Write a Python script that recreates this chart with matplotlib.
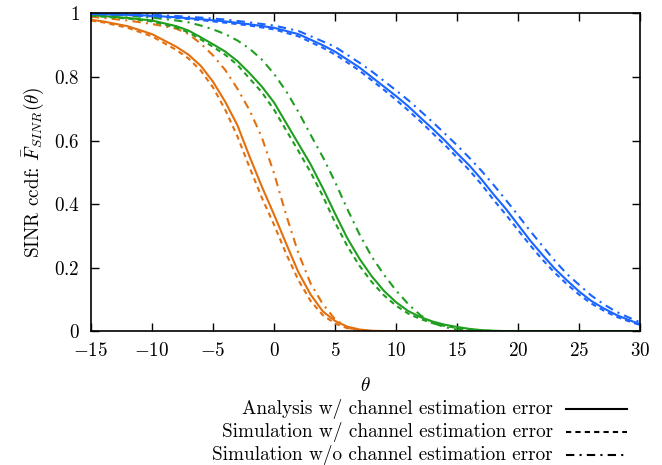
import matplotlib
matplotlib.use("Agg")
import matplotlib.pyplot as plt
from matplotlib.lines import Line2D
from matplotlib.ticker import FuncFormatter

plt.rcParams["font.family"] = "serif"
plt.rcParams["font.serif"] = ["cmr10", "DejaVu Serif"]
plt.rcParams["mathtext.fontset"] = "cm"
plt.rcParams["axes.formatter.use_mathtext"] = True
plt.rcParams["font.size"] = 13.8

# theta grid per colour group
x_orange = [-15, -14, -12, -10, -8, -7, -6, -5, -4, -3, -2, -1, 0, 1, 2, 3, 4, 5, 6, 7, 8, 9, 30]
orange_ana = [0.98, 0.975, 0.96, 0.935, 0.895, 0.87, 0.835, 0.785, 0.722, 0.648, 0.549, 0.455, 0.367,
              0.275, 0.185, 0.115, 0.062, 0.032, 0.014, 0.005, 0.001, 0.0, 0.0]
orange_sim = [0.978, 0.972, 0.955, 0.928, 0.885, 0.858, 0.82, 0.767, 0.697, 0.613, 0.515, 0.42, 0.335,
              0.243, 0.16, 0.095, 0.05, 0.024, 0.009, 0.003, 0.0, 0.0, 0.0]
orange_noerr = [0.99, 0.986, 0.978, 0.967, 0.952, 0.935, 0.905, 0.868, 0.822, 0.763, 0.695, 0.61, 0.497,
                0.365, 0.245, 0.15, 0.085, 0.037, 0.011, 0.002, 0.0, 0.0, 0.0]

x_green = [-15, -12, -10, -8, -7, -6, -5, -4, -3, -2, -1, 0, 1, 2, 3, 4, 5, 6, 7, 8, 9, 10,
           11, 12, 13, 14, 15, 16, 17, 18, 19, 30]
green_ana = [0.995, 0.986, 0.978, 0.96, 0.946, 0.925, 0.903, 0.88, 0.85, 0.812, 0.77, 0.72, 0.655,
             0.59, 0.525, 0.45, 0.37, 0.293, 0.228, 0.173, 0.127, 0.091, 0.063, 0.044, 0.03, 0.02,
             0.013, 0.007, 0.003, 0.001, 0.0, 0.0]
green_sim = [0.993, 0.984, 0.975, 0.955, 0.94, 0.918, 0.895, 0.87, 0.838, 0.795, 0.752, 0.697, 0.632,
             0.567, 0.50, 0.425, 0.342, 0.268, 0.206, 0.155, 0.113, 0.08, 0.055, 0.038, 0.025, 0.016,
             0.01, 0.005, 0.002, 0.0, 0.0, 0.0]
green_noerr = [0.998, 0.993, 0.987, 0.978, 0.972, 0.962, 0.95, 0.935, 0.915, 0.889, 0.855, 0.81, 0.755,
               0.69, 0.618, 0.548, 0.47, 0.385, 0.305, 0.235, 0.178, 0.128, 0.085, 0.05, 0.026, 0.012,
               0.005, 0.002, 0.0, 0.0, 0.0, 0.0]

x_blue = [-15, -12, -10, -8, -6, -4, -2, 0, 2, 4, 5, 6, 7, 8, 9, 10, 11, 12, 13, 14, 15, 16, 17,
          18, 19, 20, 21, 22, 23, 24, 25, 26, 27, 28, 29, 30]
blue_ana = [0.999, 0.996, 0.993, 0.988, 0.982, 0.975, 0.966, 0.955, 0.935, 0.90, 0.88, 0.855, 0.83,
            0.80, 0.77, 0.74, 0.708, 0.672, 0.637, 0.6, 0.56, 0.522, 0.478, 0.43, 0.385, 0.335,
            0.285, 0.24, 0.197, 0.16, 0.125, 0.095, 0.072, 0.052, 0.036, 0.022]
blue_sim = [0.998, 0.995, 0.991, 0.986, 0.979, 0.971, 0.962, 0.95, 0.928, 0.892, 0.871, 0.846, 0.82,
            0.79, 0.76, 0.728, 0.695, 0.66, 0.623, 0.586, 0.547, 0.507, 0.462, 0.413, 0.367, 0.318,
            0.27, 0.225, 0.184, 0.148, 0.115, 0.087, 0.065, 0.046, 0.032, 0.019]
blue_noerr = [1.0, 0.998, 0.996, 0.992, 0.987, 0.981, 0.972, 0.962, 0.945, 0.912, 0.895, 0.87, 0.845,
              0.818, 0.788, 0.758, 0.727, 0.693, 0.658, 0.622, 0.585, 0.546, 0.505, 0.46, 0.413,
              0.365, 0.315, 0.268, 0.222, 0.18, 0.146, 0.112, 0.085, 0.062, 0.044, 0.028]

labels = ["Analysis w/ channel estimation error",
          "Simulation w/ channel estimation error",
          "Simulation w/o channel estimation error"]

c_orange = "#e3700f"
c_green = "#1f9e1f"
c_blue = "#1a64ff"
dash = (0, (2.5, 2.0))
dashdot = (0, (4.0, 2.5, 1.0, 2.5))

fig = plt.figure(figsize=(6.62, 4.65), dpi=100)
ax = fig.add_axes([0.1375, 0.288, 0.8293, 0.683])

groups = [(x_orange, orange_ana, orange_sim, orange_noerr, c_orange),
          (x_green, green_ana, green_sim, green_noerr, c_green),
          (x_blue, blue_ana, blue_sim, blue_noerr, c_blue)]
for xs, a, s, n, c in groups:
    ax.plot(xs, a, color=c, lw=1.5, ls="-")
    ax.plot(xs, s, color=c, lw=1.5, ls=dash)
    ax.plot(xs, n, color=c, lw=1.5, ls=dashdot)

ax.set_xlim(-15, 30)
ax.set_ylim(0, 1)
ax.set_xticks(range(-15, 31, 5))
ax.set_yticks([0, 0.2, 0.4, 0.6, 0.8, 1])
fmt = FuncFormatter(lambda v, p: "$%g$" % round(v, 2))
ax.xaxis.set_major_formatter(fmt)
ax.yaxis.set_major_formatter(fmt)
ax.tick_params(direction="in", length=6, width=1, top=True, right=True, pad=8)
for sp in ax.spines.values():
    sp.set_linewidth(1.2)

ax.set_xlabel(r"$\theta$", labelpad=12)
ax.set_ylabel(r"SINR ccdf: $\bar{F}_{SINR}(\theta)$", labelpad=6)

# legend drawn below the axes, labels right-aligned
W, H = 662.0, 465.0
rows_y = [409, 432, 455]
styles = ["-", dash, dashdot]
for lab, yy, st in zip(labels, rows_y, styles):
    fig.text(553 / W, 1 - yy / H, lab, ha="right", va="center")
    fig.add_artist(Line2D([566 / W, 627 / W], [1 - yy / H, 1 - yy / H],
                          color="black", lw=1.5, ls=st, transform=fig.transFigure))

fig.savefig("out.png", dpi=100)
